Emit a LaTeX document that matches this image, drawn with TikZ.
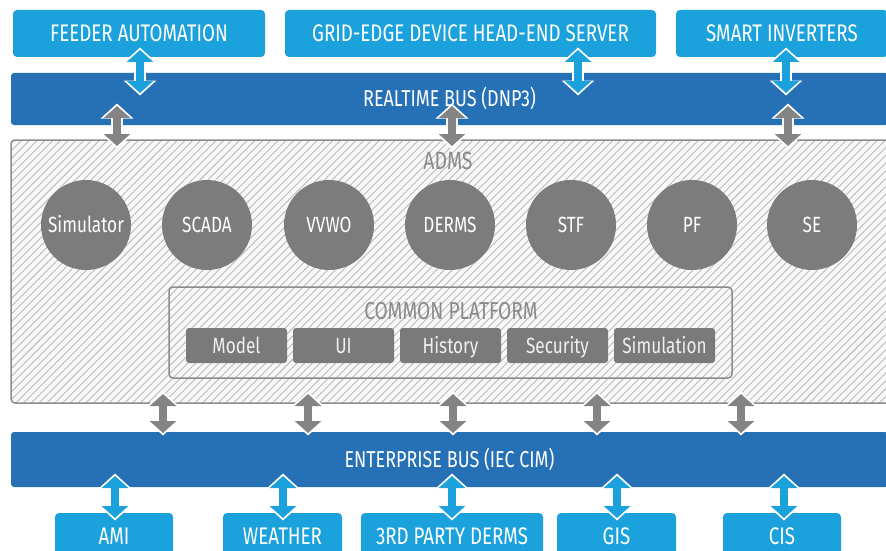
\documentclass[tikz,border=0pt]{standalone}
\usepackage{fontspec}
\setmainfont{Fira Sans}[FakeStretch=0.78]
\usetikzlibrary{arrows.meta,patterns.meta,calc}
\definecolor{lblue}{RGB}{27,161,219}
\definecolor{dblue}{RGB}{38,112,181}
\definecolor{cgray}{RGB}{124,124,124}
\definecolor{sgray}{RGB}{122,122,122}
\definecolor{tgray}{RGB}{138,138,138}
\definecolor{bgray}{RGB}{140,140,140}
\definecolor{agray}{RGB}{132,132,132}
\definecolor{hatch}{RGB}{186,186,186}
\definecolor{hatchbg}{RGB}{248,248,248}
\tikzset{
  every node/.style={inner sep=0pt, outer sep=0pt, text depth=0pt},
  ext/.style={fill=lblue, rounded corners=4pt, text=white, font=\fontsize{24}{24}\selectfont, text height=16.5pt},
  busbox/.style={fill=dblue, rounded corners=3pt, text=white, font=\fontsize{23}{23}\selectfont, text height=15.8pt},
  admsbox/.style={draw=bgray, line width=1.5pt, rounded corners=4pt, preaction={fill=hatchbg},
    pattern={Lines[angle=45,distance=5.5pt,line width=0.9pt]}, pattern color=hatch},
  cpbox/.style={draw=bgray, line width=1.5pt, rounded corners=4pt},
  func/.style={circle, fill=cgray, minimum size=90pt, text=white, font=\fontsize{22}{22}\selectfont, text height=15.2pt},
  svc/.style={fill=sgray, rounded corners=3pt, minimum width=101pt, minimum height=35pt,
    text=white!94!black, font=\fontsize{22}{22}\selectfont, text height=15.2pt},
  glabel/.style={text=tgray, font=\fontsize{25}{25}\selectfont, text height=17.2pt},
}
\newcommand\biarrow[3]{%
  \draw[white, line width=12pt, {Triangle[width=32pt,length=15pt]}-{Triangle[width=32pt,length=15pt]},
    shorten <=-2.5pt, shorten >=-2.5pt] #2 -- #3;
  \draw[#1, line width=8pt, {Triangle[width=26pt,length=12pt]}-{Triangle[width=26pt,length=12pt]}] #2 -- #3;}
\begin{document}
\begin{tikzpicture}[x=1pt,y=-1pt]
\clip (0,0) rectangle (886,551);
\fill[white] (0,0) rectangle (886,551);
% top systems
\node[ext, minimum width=252pt, minimum height=47pt] (fa) at (139,33.5) {FEEDER AUTOMATION};
\node[ext, minimum width=371pt, minimum height=47pt] (ge) at (470.5,33.5) {GRID-EDGE DEVICE HEAD-END SERVER};
\node[ext, minimum width=212pt, minimum height=47pt] (si) at (782,33.5) {SMART INVERTERS};
% realtime bus
\node[busbox, minimum width=877pt, minimum height=52pt] (rt) at (449.5,99) {REALTIME BUS (DNP3)};
% ADMS
\node[admsbox, minimum width=881pt, minimum height=263pt] (adms) at (451.5,271.5) {};
\node[glabel] (admsl) at (448,161) {ADMS};
\node[func] (c1) at (86,225) {Simulator};
\node[func] (c2) at (207,225) {SCADA};
\node[func] (c3) at (329,225) {VVWO};
\node[func] (c4) at (450,225) {DERMS};
\node[func] (c5) at (571,225) {STF};
\node[func] (c6) at (692,225) {PF};
\node[func] (c7) at (812,225) {SE};
\node[cpbox, minimum width=563pt, minimum height=91pt] (cp) at (450.5,332.5) {};
\node[glabel, font=\fontsize{24.5}{24.5}\selectfont, text height=16.9pt] (cpl) at (451,311) {COMMON PLATFORM};
\node[svc] (s1) at (236.5,345.5) {Model};
\node[svc] (s2) at (343.5,345.5) {UI};
\node[svc] (s3) at (450.5,345.5) {History};
\node[svc] (s4) at (557.5,345.5) {Security};
\node[svc] (s5) at (664.5,345.5) {Simulation};
% enterprise bus
\node[busbox, minimum width=877pt, minimum height=55pt] (eb) at (449.5,459.5) {ENTERPRISE BUS (IEC CIM)};
% bottom systems
\node[ext, minimum width=118pt, minimum height=47pt] (ami) at (114,536.5) {AMI};
\node[ext, minimum width=119pt, minimum height=47pt] (wx) at (282.5,536.5) {WEATHER};
\node[ext, minimum width=182pt, minimum height=47pt] (tp) at (452,536.5) {3RD PARTY DERMS};
\node[ext, minimum width=119pt, minimum height=47pt] (gis) at (616.5,536.5) {GIS};
\node[ext, minimum width=118pt, minimum height=47pt] (cis) at (782,536.5) {CIS};
% column coordinates
\coordinate (ta) at (140,0);
\coordinate (tb) at (578,0);
\coordinate (tc) at (786,0);
\coordinate (ga) at (117,0);
\coordinate (gb) at (452,0);
\coordinate (gc) at (788,0);
\coordinate (la) at (163,0);
\coordinate (lb) at (308,0);
\coordinate (lc) at (453,0);
\coordinate (ld) at (597,0);
\coordinate (le) at (741,0);
% top connectors
\biarrow{lblue}{($(fa.south -| ta)+(0,-7)$)}{($(rt.north -| ta)+(0,20)$)}
\biarrow{lblue}{($(ge.south -| tb)+(0,-7)$)}{($(rt.north -| tb)+(0,20)$)}
\biarrow{lblue}{($(si.south -| tc)+(0,-7)$)}{($(rt.north -| tc)+(0,20)$)}
\biarrow{agray}{($(rt.south -| ga)+(0,-19)$)}{($(adms.north -| ga)+(0,6)$)}
\biarrow{agray}{($(rt.south -| gb)+(0,-19)$)}{($(adms.north -| gb)+(0,6)$)}
\biarrow{agray}{($(rt.south -| gc)+(0,-19)$)}{($(adms.north -| gc)+(0,6)$)}
% lower connectors
\biarrow{agray}{($(adms.south -| la)+(0,-9)$)}{($(eb.north -| la)+(0,1)$)}
\biarrow{agray}{($(adms.south -| lb)+(0,-9)$)}{($(eb.north -| lb)+(0,1)$)}
\biarrow{agray}{($(adms.south -| lc)+(0,-9)$)}{($(eb.north -| lc)+(0,1)$)}
\biarrow{agray}{($(adms.south -| ld)+(0,-9)$)}{($(eb.north -| ld)+(0,1)$)}
\biarrow{agray}{($(adms.south -| le)+(0,-9)$)}{($(eb.north -| le)+(0,1)$)}
\biarrow{lblue}{($(eb.south -| ami)+(1,-11)$)}{($(ami.north)+(1,5)$)}
\biarrow{lblue}{($(eb.south -| wx)+(0.5,-11)$)}{($(wx.north)+(0.5,5)$)}
\biarrow{lblue}{($(eb.south -| tp)+(0,-11)$)}{($(tp.north)+(0,5)$)}
\biarrow{lblue}{($(eb.south -| gis)+(0.5,-11)$)}{($(gis.north)+(0.5,5)$)}
\biarrow{lblue}{($(eb.south -| cis)+(2,-11)$)}{($(cis.north)+(2,5)$)}
\end{tikzpicture}
\end{document}
